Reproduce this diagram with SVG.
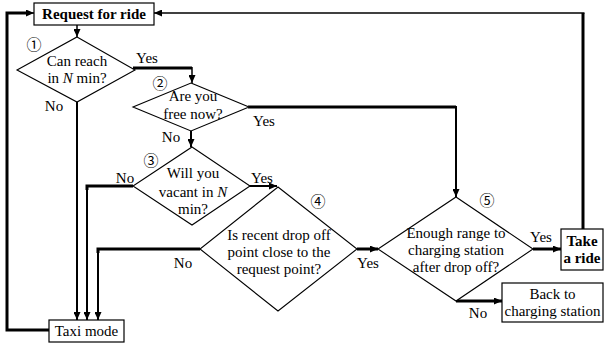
<svg xmlns="http://www.w3.org/2000/svg" width="605" height="345" viewBox="0 0 605 345">
<style>
text{font-family:"Liberation Serif","DejaVu Serif",serif;font-size:15px;fill:#000;text-anchor:middle}
.b{font-weight:bold}
.num{font-family:"Noto Sans CJK JP","DejaVu Sans",sans-serif;font-size:15px;font-weight:normal}
.box{fill:#fff;stroke:#000;stroke-width:1.2}
.dia{fill:#fff;stroke:#000;stroke-width:1.1}
.c{fill:none;stroke:#000;stroke-linejoin:miter}
.t3{stroke-width:3}
.t2{stroke-width:2}
.t1{stroke-width:1.5}
.a{marker-end:url(#ah)}
</style>
<defs>
<marker id="ah" markerWidth="8" markerHeight="7" refX="8" refY="3.5" orient="auto" markerUnits="userSpaceOnUse">
<path d="M0,0 L8,3.5 L0,7 z" fill="#000"/>
</marker>
</defs>
<g id="connectors">
<path class="c t3" d="M49,330 H7 V13 H28"/>
<path class="c t1 a" d="M26,13 H34"/>
<path class="c t3" d="M583,229 V13"/>
<path class="c t1 a" d="M584.5,13 H154"/>
<path class="c t1 a" d="M77,25 V37"/>
<path class="c t3" d="M133,68 H192"/>
<path class="c t1 a" d="M192,67 V83"/>
<path class="c t3" d="M248,107 H456"/>
<path class="c t2 a" d="M456,106 V197"/>
<path class="c t2 a" d="M191,131 V147"/>
<path class="c t2 a" d="M77,102 V320"/>
<path class="c t3" d="M133,186 H87 V190"/>
<path class="c t2 a" d="M87,188 V320"/>
<path class="c t3" d="M200,249 H98 V253"/>
<path class="c t2 a" d="M98,251 V320"/>
<path class="c t2 a" d="M248,186 H277"/>
<path class="c t3 a" d="M357,249 H378"/>
<path class="c t3 a" d="M533,249 H561"/>
<path class="c t3 a" d="M456,301 H502"/>
</g>
<g id="request">
<rect class="box" x="34" y="3" width="120" height="22"/>
<text class="b" x="94" y="19">Request for ride</text>
</g>
<g id="d1">
<polygon class="dia" points="77,37 135,70 77,102 17,70"/>
<text class="num" x="34" y="50">①</text>
<text x="77" y="66">Can reach</text>
<text x="77" y="83">in <tspan font-style="italic">N</tspan> min?</text>
</g>
<g id="d2">
<polygon class="dia" points="191,83 249,107 191,131 133,107"/>
<text class="num" x="160" y="89">②</text>
<text x="193" y="101">Are you</text>
<text x="193" y="119">free now?</text>
</g>
<g id="d3">
<polygon class="dia" points="192,147 250,186 192,225 133,186"/>
<text class="num" x="151" y="166">③</text>
<text x="193" y="178">Will you</text>
<text x="193" y="197">vacant in <tspan font-style="italic">N</tspan></text>
<text x="193" y="214">min?</text>
</g>
<g id="d4">
<polygon class="dia" points="278,187 357,249 278,311 200,249"/>
<text class="num" x="318" y="207">④</text>
<text x="279" y="240">Is recent drop off</text>
<text x="279" y="257">point close to the</text>
<text x="279" y="274">request point?</text>
</g>
<g id="d5">
<polygon class="dia" points="456,197 533,249 456,301 378,249"/>
<text class="num" x="487" y="206">⑤</text>
<text x="456" y="238">Enough range to</text>
<text x="456" y="255">charging station</text>
<text x="456" y="272">after drop off?</text>
</g>
<g id="take">
<rect class="box" x="561" y="229" width="42" height="41"/>
<text class="b" x="582" y="246">Take</text>
<text class="b" x="582" y="263">a ride</text>
</g>
<g id="back">
<rect class="box" x="502" y="283" width="101" height="39"/>
<text x="552.5" y="299">Back to</text>
<text x="552.5" y="316">charging station</text>
</g>
<g id="taxi">
<rect class="box" x="49" y="320" width="75" height="22"/>
<text x="86.5" y="336">Taxi mode</text>
</g>
<g id="labels">
<text x="147" y="63">Yes</text>
<text x="54" y="111">No</text>
<text x="264" y="126">Yes</text>
<text x="171" y="142">No</text>
<text x="125" y="183">No</text>
<text x="262" y="183">Yes</text>
<text x="183" y="268">No</text>
<text x="368" y="268">Yes</text>
<text x="541" y="242">Yes</text>
<text x="478" y="318">No</text>
</g>
</svg>
